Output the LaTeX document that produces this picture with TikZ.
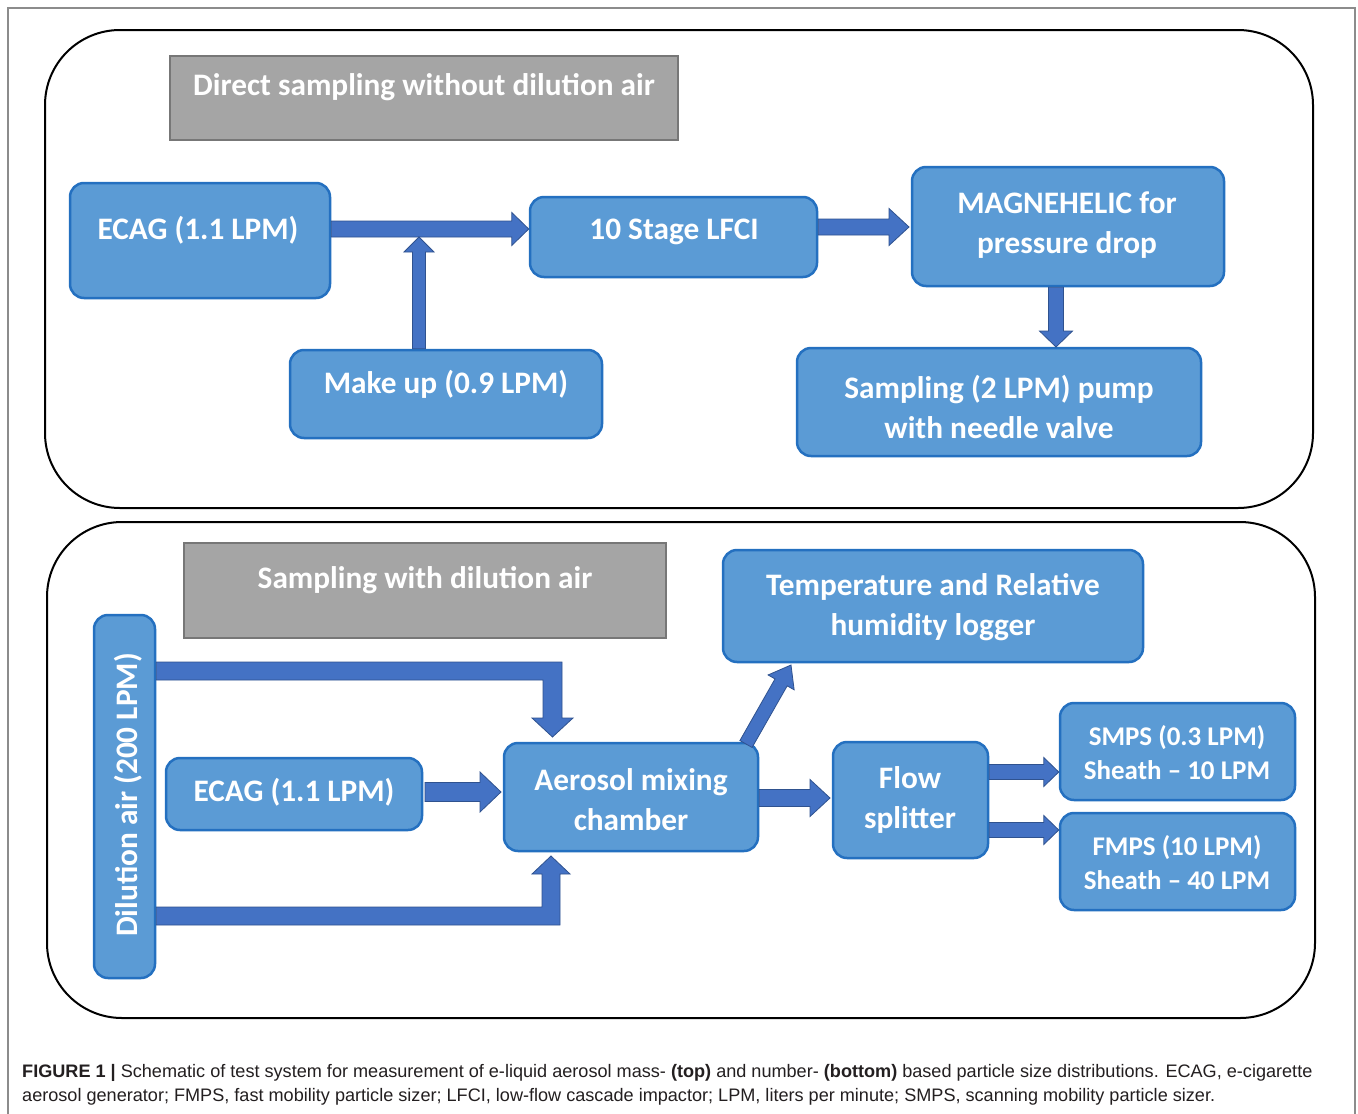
\documentclass[tikz,border=0pt]{standalone}
\usepackage{fontspec}
\setmainfont{Liberation Sans}
\newfontfamily\boxfont[Ligatures=TeX]{Carlito}
\usetikzlibrary{calc}
\definecolor{boxfill}{HTML}{5B9BD5}
\definecolor{boxline}{HTML}{2470C0}
\definecolor{arrfill}{HTML}{4472C4}
\definecolor{arrline}{HTML}{2F528F}
\definecolor{titlefill}{HTML}{A5A5A5}
\definecolor{titleline}{HTML}{777777}
\definecolor{framegray}{HTML}{8C8C8C}
\definecolor{captext}{HTML}{231F20}
\newcommand\bbox[5]{\node[bluebox, minimum width={(#4-#2)*1pt}, minimum height={(#5-#3)*1pt}] (#1) at ({(#2+#4)/2},{(#3+#5)/2}) {};}
\newcommand\blockarr[5]{%
  \coordinate (ba-a) at (#1);
  \coordinate (ba-b) at (#2);
  \coordinate (ba-h) at ($(ba-b)!#5!(ba-a)$);
  \filldraw[blockarrow] ($(ba-a)!#3!90:(ba-b)$) -- ($(ba-h)!#3!-90:(ba-a)$) -- ($(ba-h)!#4!-90:(ba-a)$) -- (ba-b) -- ($(ba-h)!#4!90:(ba-a)$) -- ($(ba-h)!#3!90:(ba-a)$) -- ($(ba-a)!#3!-90:(ba-b)$) -- cycle;}
\begin{document}
\begin{tikzpicture}[x=1pt,y=-1pt,
  bluebox/.style={draw=boxline, fill=boxfill, line width=2.5pt, rounded corners=14pt, inner sep=0pt},
  titlebox/.style={draw=titleline, fill=titlefill, line width=1.5pt, inner sep=0pt},
  boxtext/.style={text=white, font=\boxfont\bfseries\fontsize{31.3}{40}\selectfont, align=center, inner sep=0pt},
  smalltext/.style={text=white, font=\boxfont\bfseries\fontsize{27}{34}\selectfont, align=center, inner sep=0pt},
  panel/.style={draw=black, line width=2pt, rounded corners=75pt},
  blockarrow/.style={draw=arrline, fill=arrfill, line width=0.8pt, line join=miter},
  captxt/.style={text=captext, font=\fontsize{18.1}{21}\selectfont, anchor=base west, inner sep=0pt}]
\useasboundingbox (0,0) rectangle (1358,1114);
\clip (0,0) rectangle (1358,1114);
\fill[white] (0,0) rectangle (1358,1114);
\draw[framegray, line width=1.5pt] (8,1130) -- (8,8) -- (1355,8) -- (1355,1130);
% panels
\draw[panel] (45,30) rectangle (1313,508);
\draw[panel] (47,522) rectangle (1315,1018);
% titles
\node[titlebox, minimum width=508pt, minimum height=84pt] (title1) at (424,98) {};
\node[boxtext] (title1-txt) at (424,87) {Direct sampling without dilution air};
\node[titlebox, minimum width=482pt, minimum height=95pt] (title2) at (425,590.5) {};
\node[boxtext] (title2-txt) at (425,580) {Sampling with dilution air};
% top boxes
\bbox{ecagT}{70}{183}{330}{298}
\bbox{lfci}{530}{197}{817}{277}
\bbox{magne}{912}{167}{1224}{286}
\bbox{makeup}{290}{350}{602}{438}
\bbox{samp}{797}{348}{1201}{456}
\node[boxtext] (ecagT-txt) at (198,230) {ECAG (1.1 LPM)};
\node[boxtext] (lfci-txt) at (674,232) {10 Stage LFCI};
\node[boxtext] (magne-txt) at (1067,225) {MAGNEHELIC for\\pressure drop};
\node[boxtext] (makeup-txt) at (446,384) {Make up (0.9 LPM)};
\node[boxtext] (samp-txt) at (999,407) {Sampling (2 LPM) pump\\with needle valve};
% bottom boxes
\bbox{dil}{94}{615}{155}{978}
\bbox{ecagB}{166}{758}{422}{830}
\bbox{chamber}{504}{743}{758}{851}
\bbox{temp}{723}{550}{1143}{662}
\bbox{flow}{833}{742}{988}{858}
\bbox{smps}{1060}{703}{1295}{800}
\bbox{fmps}{1060}{813}{1295}{910}
\node[boxtext, rotate=90] (dil-txt) at (128,795) {Dilution air (200 LPM)};
\node[boxtext] (ecagB-txt) at (294,792) {ECAG (1.1 LPM)};
\node[boxtext] (chamber-txt) at (631,800) {Aerosol mixing\\chamber};
\node[boxtext] (temp-txt) at (933,607) {Temperature and Relative\\humidity logger};
\node[boxtext] (flow-txt) at (910,800) {Flow\\splitter};
\node[smalltext] (smps-txt) at (1177,753) {SMPS (0.3 LPM)\\Sheath – 10 LPM};
\node[smalltext] (fmps-txt) at (1177,863) {FMPS (10 LPM)\\Sheath – 40 LPM};
% top arrows
\coordinate (join) at (419,237);
\blockarr{ecagT.east |- 0,229}{lfci.west |- 0,229}{8pt}{16.5pt}{17pt}
\blockarr{419,0 |- makeup.north}{join}{6.5pt}{15pt}{15pt}
\blockarr{lfci.east |- 0,227}{909,227}{8pt}{18.5pt}{20pt}
\blockarr{1056,0 |- magne.south}{1056,347}{7.5pt}{16.5pt}{16pt}
% bottom arrows
\blockarr{425,792}{501,792}{9.5pt}{20pt}{21pt}
\blockarr{chamber.east |- 0,798}{830,798}{8.5pt}{18.5pt}{20pt}
\blockarr{flow.east |- 0,772}{smps.west |- 0,772}{7.5pt}{14.5pt}{15pt}
\blockarr{flow.east |- 0,830}{fmps.west |- 0,830}{7.5pt}{14.5pt}{15pt}
\blockarr{746,744}{791,665}{7pt}{15pt}{20pt}
\filldraw[blockarrow] (dil.east |- 0,662) -- (562,662) -- (562,718) -- (573,718) -- (552.5,737) -- (532,718) -- (543,718) -- (543,680) -- (dil.east |- 0,680) -- cycle;
\filldraw[blockarrow] (dil.east |- 0,925) -- (560,925) -- (560,874) -- (570,874) -- (551,856) -- (532,874) -- (542,874) -- (542,907) -- (dil.east |- 0,907) -- cycle;
% caption
\node[captxt] (cap1) at (22,1077) {\textbf{FIGURE 1 |} Schematic of test system for measurement of e-liquid aerosol mass- \textbf{(top)} and number- \textbf{(bottom)} based particle size distributions. ECAG, e-cigarette};
\node[captxt] (cap2) at (22,1101) {aerosol generator; FMPS, fast mobility particle sizer; LFCI, low-flow cascade impactor; LPM, liters per minute; SMPS, scanning mobility particle sizer.};
\end{tikzpicture}
\end{document}
